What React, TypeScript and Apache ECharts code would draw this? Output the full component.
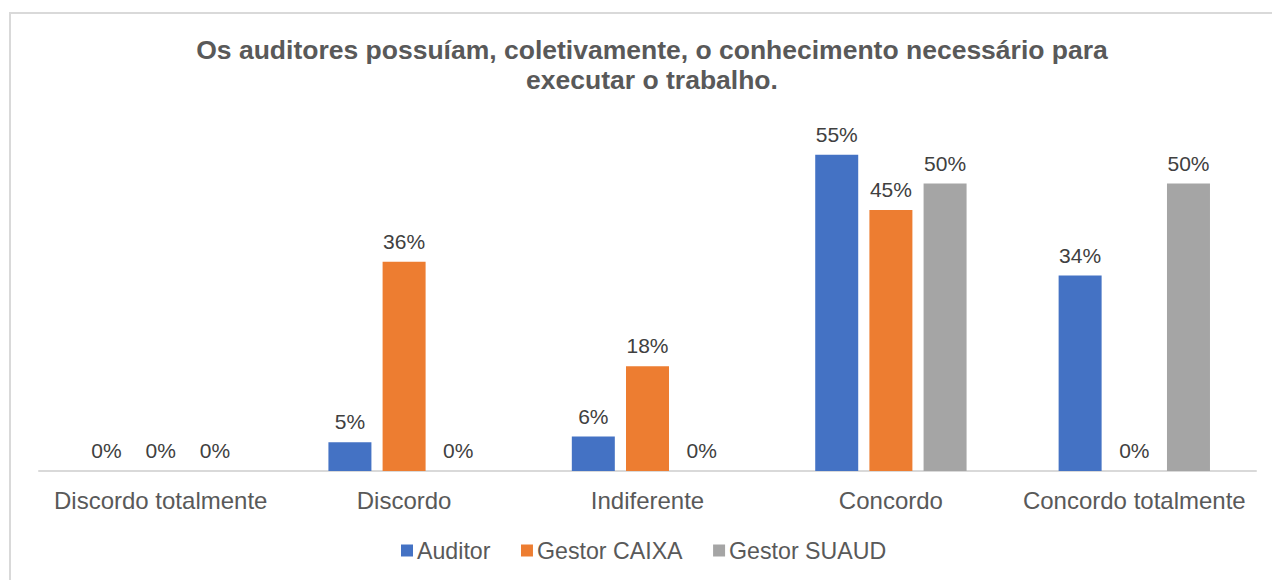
import React, { useEffect, useRef } from "react";
import * as echarts from "echarts";

const categories = ["Discordo totalmente", "Discordo", "Indiferente", "Concordo", "Concordo totalmente"];
const auditor = [0, 0.05, 0.06, 0.55, 0.34];
const gestorCaixa = [0, 0.364, 0.182, 0.454, 0];
const gestorSuaud = [0, 0, 0, 0.5, 0.5];
const seriesNames = ["Auditor", "Gestor CAIXA", "Gestor SUAUD"];
const colors = ["#4472C4", "#ED7D31", "#A5A5A5"];
const titleText = "Os auditores possuíam, coletivamente, o conhecimento necessário para\nexecutar o trabalho.";

const FONT = "'Liberation Sans', Arial, sans-serif";

export default function App() {
  const ref = useRef<HTMLDivElement>(null);
  useEffect(() => {
    if (!ref.current) return;
    const chart = echarts.init(ref.current, undefined, { renderer: "svg" });
    const data = [auditor, gestorCaixa, gestorSuaud];
    chart.setOption({
      animation: false,
      backgroundColor: "#ffffff",
      textStyle: { fontFamily: FONT },
      title: {
        text: titleText,
        left: 647,
        textAlign: "center",
        top: 30,
        textStyle: {
          fontFamily: FONT,
          fontSize: 26.5,
          fontWeight: "bold",
          color: "#595959",
          lineHeight: 30,
        },
      },
      graphic: [
        {
          type: "rect",
          shape: { x: 10, y: 13, width: 1300, height: 700 },
          style: { fill: "none", stroke: "#D9D9D9", lineWidth: 2 },
          silent: true,
          z: -1,
        },
      ],
      legend: {
        left: 396,
        top: 534,
        itemWidth: 12,
        itemHeight: 12,
        itemGap: 30.5,
        icon: "rect",
        textStyle: { fontFamily: FONT, fontSize: 23.2, color: "#595959", padding: [0, 0, 0, -1] },
        data: seriesNames,
      },
      grid: { left: 39, right: 16, top: 126, bottom: 109, containLabel: false },
      xAxis: {
        type: "category",
        data: categories,
        axisLine: { lineStyle: { color: "#D9D9D9", width: 2 } },
        axisTick: { show: false },
        axisLabel: { fontFamily: FONT, fontSize: 24, color: "#595959", margin: 17, interval: 0 },
      },
      yAxis: {
        type: "value",
        min: 0,
        max: 0.6,
        interval: 0.1,
        show: false,
        splitLine: { show: false },
      },
      series: seriesNames.map((name, i) => ({
        name,
        type: "bar",
        data: data[i],
        barWidth: 43,
        barGap: "26%",
        itemStyle: { color: colors[i] },
        label: {
          show: true,
          position: "top",
          distance: 10,
          fontFamily: FONT,
          fontSize: 21,
          color: "#404040",
          formatter: (p: any) => Math.round(p.value * 100) + "%",
        },
      })),
    });
    return () => chart.dispose();
  }, []);
  return (
    <div
      ref={ref}
      style={{ position: "fixed", left: 0, top: 0, width: 1272, height: 580, background: "#fff" }}
    />
  );
}
